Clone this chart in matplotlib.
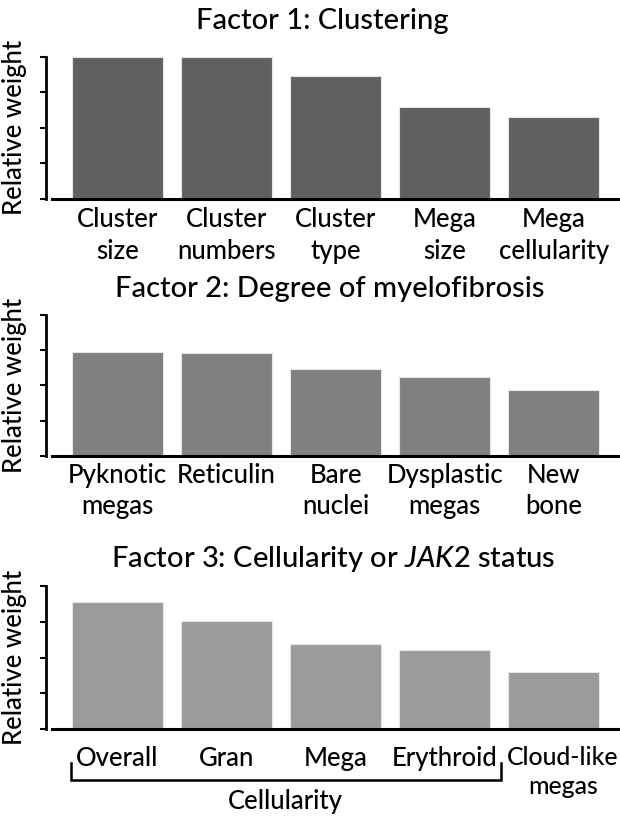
import matplotlib
matplotlib.use("Agg")
import matplotlib.pyplot as plt
from matplotlib.transforms import blended_transform_factory, ScaledTranslation

plt.rcParams['font.family'] = ['Lato', 'DejaVu Sans']
plt.rcParams['font.weight'] = 'medium'
plt.rcParams['mathtext.fontset'] = 'custom'
plt.rcParams['mathtext.rm'] = 'Lato:medium'
plt.rcParams['mathtext.it'] = 'Lato:italic:medium'

titles = ["Factor 1: Clustering",
          "Factor 2: Degree of myelofibrosis",
          "Factor 3: Cellularity or $\\it{JAK2}$ status"]
labels1 = ["Cluster\nsize", "Cluster\nnumbers", "Cluster\ntype", "Mega\nsize", "Mega\ncellularity"]
labels2 = ["Pyknotic\nmegas", "Reticulin", "Bare\nnuclei", "Dysplastic\nmegas", "New\nbone"]
labels3 = ["Overall", "Gran", "Mega", "Erythroid", "Cloud-like\nmegas"]
values1 = [4.0, 4.0, 3.47, 2.60, 2.31]
values2 = [2.96, 2.93, 2.47, 2.23, 1.86]
values3 = [3.56, 3.02, 2.37, 2.20, 1.59]
ylabel = "Relative weight"
bracket_label = "Cellularity"

W, H = 620, 818
fig = plt.figure(figsize=(W/100, H/100), dpi=100)

colors = ["#606060", "#808080", "#9b9b9b"]
boxes = [(56.7, 199.0), (315.0, 455.7), (586.0, 729.0)]
title_xy = [(322, 29), (330, 297), (333, 567)]
label_pad = [6, 5, 12]
left_px = 46
xmin, xmax = -0.655, 4.606
FS = 18.5

axes = []
for i, (vals, labs) in enumerate(zip([values1, values2, values3], [labels1, labels2, labels3])):
    top, bot = boxes[i]
    ax = fig.add_axes([left_px/W, 1 - bot/H, 1 - left_px/W, (bot - top)/H])
    x = list(range(len(vals)))
    ax.bar(x, vals, width=0.833, color=colors[i], edgecolor="#e6e6e6", linewidth=0.8, zorder=2)
    ax.set_xlim(xmin, xmax)
    ax.set_ylim(0, 4)
    ax.set_yticks([0, 1, 2, 3, 4])
    ax.set_yticklabels([])
    ax.set_xticks(x)
    ax.set_xticklabels(labs, fontsize=FS, linespacing=1.31)
    ax.tick_params(axis='x', length=0, pad=label_pad[i])
    ax.tick_params(axis='y', length=4, width=1.5, direction='out')
    for s in ['top', 'right']:
        ax.spines[s].set_visible(False)
    ax.spines['left'].set_linewidth(2)
    ax.spines['bottom'].set_linewidth(2.2)
    ax.spines['bottom'].set_bounds(xmin + 6/109.1, xmax)
    ax.patch.set_alpha(0)
    tx, ty = title_xy[i]
    fig.text(tx/W, 1 - ty/H, titles[i], ha='center', va='baseline', fontsize=21)
    fig.text(15/W, 1 - (top + bot)/2/H, ylabel, rotation=90, ha='center', va='center', fontsize=FS)
    axes.append(ax)

# last label of panel 3 sits a little to the right of its bar
ax3 = axes[2]
lab = ax3.get_xticklabels()[-1]
lab.set_fontsize(17.8)
lab.set_transform(lab.get_transform() + ScaledTranslation(9/100, 0, fig.dpi_scale_trans))

# bracket under panel 3
tr = blended_transform_factory(ax3.transData, fig.transFigure)
yb = 1 - 779.5/H
yt = 1 - 763/H
bx0, bx1 = -0.43, 3.515
ax3.plot([bx0, bx0, bx1, bx1], [yt, yb, yb, yt], transform=tr, color='black', lw=1.8,
         clip_on=False, solid_joinstyle='miter')
fig.text(((bx0 + bx1)/2*109.1 + 117.5)/W, 1 - 809/H, bracket_label, ha='center', va='baseline', fontsize=FS)

fig.savefig("out.png", dpi=100)
